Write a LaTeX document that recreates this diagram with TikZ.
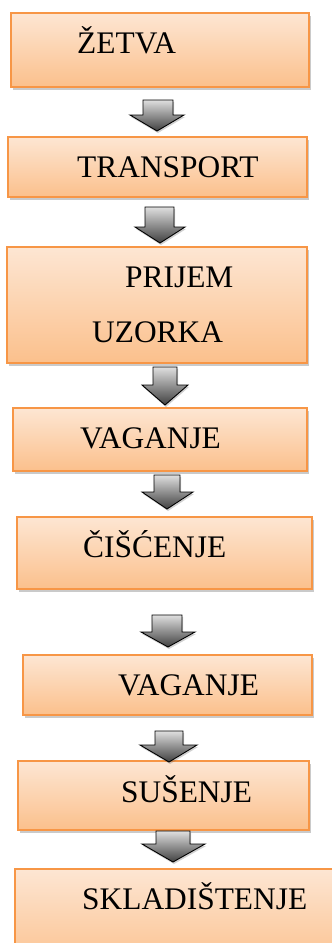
\documentclass[tikz,border=0pt]{standalone}
\usepackage{fontspec}
\setmainfont{Liberation Serif}
\usetikzlibrary{shadows}
\definecolor{boxedge}{HTML}{F79646}
\definecolor{boxtop}{HTML}{FDE6D3}
\definecolor{boxbot}{HTML}{FBC08C}
\tikzset{
  stepbox/.style={draw=boxedge, line width=1.6pt, top color=boxtop, bottom color=boxbot,
    drop shadow={shadow xshift=2pt, shadow yshift=-3pt, opacity=0.35, fill=black!60}},
  lbl/.style={anchor=base west, inner sep=0pt, font=\fontsize{31.4}{36}\selectfont},
  blockarrow/.style={draw=black, line width=0.9pt, line join=miter, top color=gray!25, bottom color=black!75,
    drop shadow={shadow xshift=1pt, shadow yshift=-2pt, opacity=0.3, fill=black!60}}
}
\begin{document}
\begin{tikzpicture}[x=1pt, y=-1pt]
\useasboundingbox (0,0) rectangle (332,943);
\clip (0,0) rectangle (332,943);
% boxes
\path[stepbox] (11,13) rectangle (309,87) coordinate (b1br);
\node[lbl] (t1) at (77,53) {ŽETVA};
\path[stepbox] (8,137) rectangle (307,197);
\node[lbl] (t2) at (77,177) {TRANSPORT};
\path[stepbox] (7,247) rectangle (307,363);
\node[lbl] (t3a) at (125,287) {PRIJEM};
\node[lbl] (t3b) at (92,342) {UZORKA};
\path[stepbox] (13,408) rectangle (307,471);
\node[lbl] (t4) at (80,448) {VAGANJE};
\path[stepbox] (17,517) rectangle (312,589);
\node[lbl] (t5) at (83,557) {ČIŠĆENJE};
\path[stepbox] (23,655) rectangle (312,715);
\node[lbl] (t6) at (118,695) {VAGANJE};
\path[stepbox] (18,761) rectangle (309,830);
\node[lbl] (t7) at (121,802) {SUŠENJE};
\path[stepbox] (15,869) rectangle (345,970);
\node[lbl] (t8) at (82,909) {SKLADIŠTENJE};
% block arrows
\path[blockarrow] (143,100) -- (173,100) -- (173,115) -- (184,115) -- (157,131) -- (130,115) -- (143,115) -- cycle;
\path[blockarrow] (145,207) -- (174,207) -- (174,227) -- (185,227) -- (160,243) -- (135,227) -- (145,227) -- cycle;
\path[blockarrow] (153,367) -- (177,367) -- (177,385) -- (188,385) -- (165,405) -- (142,385) -- (153,385) -- cycle;
\path[blockarrow] (154,475) -- (180,475) -- (180,492) -- (193,492) -- (167,509) -- (142,492) -- (154,492) -- cycle;
\path[blockarrow] (152,615) -- (182,615) -- (182,632) -- (195,632) -- (168,647) -- (141,632) -- (152,632) -- cycle;
\path[blockarrow] (155,731) -- (183,731) -- (183,745) -- (197,745) -- (169,762) -- (140,745) -- (155,745) -- cycle;
\path[blockarrow] (156,831) -- (190,831) -- (190,844) -- (205,844) -- (173,862) -- (142,844) -- (156,844) -- cycle;
\end{tikzpicture}
\end{document}
